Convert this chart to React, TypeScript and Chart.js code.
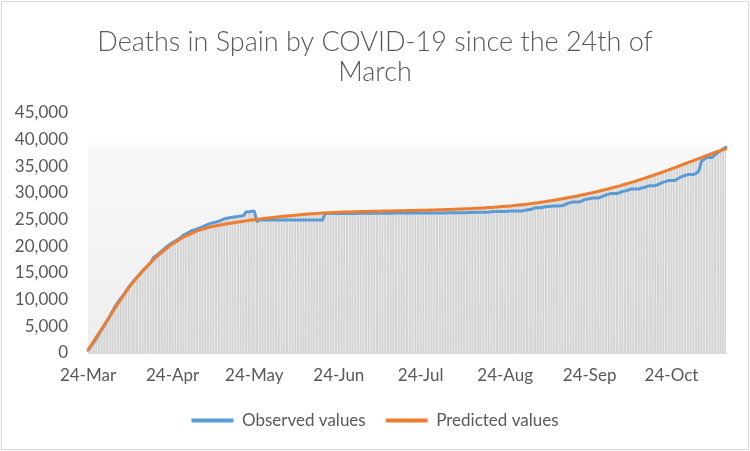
import React, { useEffect, useRef } from "react";
import { Chart, registerables } from "chart.js";

Chart.register(...registerables);

const START_YEAR = 2020;
const START_MONTH = 2; // March
const START_DAY = 24;
const MONTH_NAMES = ["Jan", "Feb", "Mar", "Apr", "May", "Jun", "Jul", "Aug", "Sep", "Oct", "Nov", "Dec"];
const TICK_LABELS = ["24-Mar", "24-Apr", "24-May", "24-Jun", "24-Jul", "24-Aug", "24-Sep", "24-Oct"];
const TITLE_LINES = ["Deaths in Spain by COVID-19 since the 24th of", "March"];
const SERIES_NAMES = ["Observed values", "Predicted values"];

// Daily values, 24-Mar .. 13-Nov
const OBSERVED = [
  514, 1252, 1907, 2676, 3508, 4346, 5158, 6007,
  6871, 7821, 8753, 9562, 10236, 10873, 11616, 12373, 13056, 13661, 14171, 14790, 15307, 15874, 16397,
  16948, 17861, 18271, 18670, 19100, 19535, 19975, 20342, 20720, 21008, 21339, 21640, 22093, 22361, 22642,
  22918, 23082, 23246, 23431, 23675, 23888, 24117, 24296, 24439, 24562, 24738, 24922, 25139, 25277, 25381,
  25468, 25527, 25596, 25706, 25758, 26446, 26496, 26570, 26570, 24652, 24935, 24936, 24937, 24939, 24943, 24945,
  24945, 24945, 24946, 24951, 24952, 24954, 24954, 24954, 24954, 24954, 24954, 24954, 24954, 24954, 24954,
  24954, 24954, 24954, 26133, 26140, 26141, 26142, 26143, 26145, 26148, 26159, 26161, 26161, 26164, 26173,
  26181, 26186, 26203, 26203, 26203, 26206, 26210, 26214, 26219, 26221, 26221, 26221, 26221, 26224, 26227,
  26231, 26234, 26234, 26234, 26238, 26240, 26242, 26244, 26250, 26250, 26250, 26254, 26254, 26259, 26261, 26263,
  26263, 26263, 26280, 26296, 26297, 26298, 26300, 26300, 26300, 26350, 26352, 26354, 26370, 26378, 26378,
  26378, 26397, 26413, 26497, 26508, 26525, 26525, 26525, 26548, 26583, 26614, 26631, 26641, 26641, 26641, 26700,
  26800, 26900, 27000, 27236, 27236, 27236, 27334, 27412, 27446, 27517, 27565, 27565, 27565, 27666, 27822,
  28061, 28223, 28313, 28313, 28313, 28481, 28722, 28852, 28936, 29050, 29050, 29050, 29229, 29432, 29609,
  29791, 29904, 29904, 29904, 30043, 30304, 30380, 30506, 30747, 30747, 30747, 30747, 30942, 31022, 31231,
  31371, 31371, 31371, 31593, 31810, 32028, 32184, 32339, 32339, 32339, 32570, 32849, 33116, 33284, 33457, 33457,
  33457, 33696, 34075, 35936, 36304, 36651, 36651, 36651, 37163, 37574, 37923, 38279, 38587,
];

const PREDICTED = [
  560, 1350, 2140, 2930, 3720, 4500,
  5300, 6100, 6900, 7700, 8500,
  9260, 10020, 10780, 11540, 12300,
  12920, 13540, 14160, 14780, 15400,
  15920, 16440, 16960, 17480, 18000,
  18420, 18840, 19260, 19680, 20100,
  20430, 20760, 21090, 21420, 21750,
  21980, 22210, 22440, 22670, 22900,
  23050, 23200, 23350, 23500, 23650,
  23750, 23850, 23950, 24050, 24150,
  24230, 24310, 24390, 24470, 24550,
  24624, 24698, 24772, 24846, 24920,
  24986, 25052, 25118, 25184, 25250,
  25308, 25366, 25424, 25482, 25540,
  25592, 25644, 25696, 25748, 25800,
  25844, 25888, 25932, 25976, 26020,
  26056, 26092, 26128, 26164, 26200,
  26228, 26256, 26284, 26312, 26340,
  26360, 26380, 26400, 26420, 26440,
  26455, 26470, 26485, 26500, 26515,
  26527, 26539, 26551, 26563, 26575,
  26585, 26595, 26605, 26615, 26625,
  26635, 26645, 26655, 26665, 26675,
  26686, 26697, 26708, 26719, 26730,
  26743, 26756, 26769, 26782, 26795,
  26810, 26825, 26840, 26855, 26870,
  26888, 26906, 26924, 26942, 26960,
  26982, 27004, 27026, 27048, 27070,
  27097, 27124, 27151, 27178, 27205,
  27238, 27271, 27304, 27337, 27370,
  27412, 27454, 27496, 27538, 27580,
  27634, 27688, 27742, 27796, 27850,
  27916, 27982, 28048, 28114, 28180,
  28258, 28336, 28414, 28492, 28570,
  28658, 28746, 28834, 28922, 29010,
  29108, 29206, 29304, 29402, 29500,
  29610, 29720, 29830, 29940, 30050,
  30172, 30294, 30416, 30538, 30660,
  30796, 30932, 31068, 31204, 31340,
  31490, 31640, 31790, 31940, 32090,
  32254, 32418, 32582, 32746, 32910,
  33086, 33262, 33438, 33614, 33790,
  33976, 34162, 34348, 34534, 34720,
  34912, 35104, 35296, 35488, 35680,
  35874, 36068, 36262, 36456, 36650,
  36840, 37030, 37220, 37410, 37600,
  37780, 37960, 38140, 38320,
];

const Y_MAX = 45000;
const Y_STEP = 5000;

const TEXT_COLOR = "#595959";
const BLUE = "#5b9bd5";
const ORANGE = "#ed7d31";
const DROP_COLOR = "#d4d4d4";

function buildLabels(n: number): string[] {
  const out: string[] = [];
  for (let i = 0; i < n; i++) {
    const d = new Date(START_YEAR, START_MONTH, START_DAY + i);
    out.push(`${d.getDate()}-${MONTH_NAMES[d.getMonth()]}`);
  }
  return out;
}

const backgroundPlugin = {
  id: "excelBackground",
  beforeDraw(chart: any) {
    const { ctx, chartArea } = chart;
    const { left, top, right, bottom } = chartArea;
    ctx.save();
    ctx.fillStyle = "#ffffff";
    ctx.fillRect(0, 0, chart.width, chart.height);
    const g = ctx.createLinearGradient(0, top, 0, bottom);
    g.addColorStop(0, "#ffffff");
    g.addColorStop(0.12, "#ffffff");
    g.addColorStop(0.15, "#f8f8f8");
    g.addColorStop(1, "#eeeeee");
    ctx.fillStyle = g;
    ctx.fillRect(left, top, right - left, bottom - top);
    ctx.strokeStyle = "#d9d9d9";
    ctx.lineWidth = 1;
    ctx.strokeRect(1.5, 1.5, chart.width - 3, chart.height - 3);
    ctx.restore();
  },
};

export default function App() {
  const canvasRef = useRef<HTMLCanvasElement | null>(null);

  useEffect(() => {
    if (!canvasRef.current) return;
    const labels = buildLabels(OBSERVED.length);
    const dropValues = OBSERVED.map((v, i) => Math.max(v, PREDICTED[i]));

    const chart = new Chart(canvasRef.current, {
      type: "line",
      data: {
        labels,
        datasets: [
          {
            type: "line",
            label: SERIES_NAMES[0],
            data: OBSERVED,
            yAxisID: "y",
            borderColor: BLUE,
            backgroundColor: BLUE,
            borderWidth: 3,
            pointRadius: 0,
            tension: 0,
            borderJoinStyle: "round",
            borderCapStyle: "round",
            order: 1,
          },
          {
            type: "line",
            label: SERIES_NAMES[1],
            data: PREDICTED,
            yAxisID: "y",
            borderColor: ORANGE,
            backgroundColor: ORANGE,
            borderWidth: 3,
            pointRadius: 0,
            tension: 0,
            borderJoinStyle: "round",
            borderCapStyle: "round",
            order: 0,
          },
          {
            type: "bar",
            label: "drop lines",
            data: dropValues,
            yAxisID: "y",
            backgroundColor: DROP_COLOR,
            borderWidth: 0,
            barThickness: 1.4,
            order: 2,
          } as any,
        ],
      },
      options: {
        responsive: false,
        animation: false,
        devicePixelRatio: 1,
        layout: { padding: { top: 0, left: 0, right: 0, bottom: 12 } },
        font: { family: "Lato" },
        plugins: {
          title: {
            display: true,
            text: TITLE_LINES,
            color: TEXT_COLOR,
            font: { family: "Lato", size: 27, weight: 300 as any, lineHeight: "30px" },
            padding: { top: 27, bottom: 26 },
          },
          legend: {
            display: true,
            position: "bottom",
            labels: {
              color: TEXT_COLOR,
              font: { family: "Lato", size: 17 },
              boxWidth: 42,
              boxHeight: 4,
              padding: 20,
              filter: (item: any) => item.datasetIndex !== 2,
              sort: (a: any, b: any) => a.datasetIndex - b.datasetIndex,
              generateLabels: (c: any) =>
                Chart.defaults.plugins.legend.labels.generateLabels(c).map((it: any) => ({ ...it, lineWidth: 0 })),
            },
          },
          tooltip: { enabled: false },
        },
        scales: {
          x: {
            type: "category",
            offset: false,
            grid: { display: false, drawTicks: false },
            border: { display: true, color: "#d9d9d9" },
            ticks: {
              autoSkip: false,
              maxRotation: 0,
              minRotation: 0,
              padding: 12,
              color: TEXT_COLOR,
              font: { family: "Lato", size: 17 },
              callback: function (this: any, _v: any, index: number) {
                const lab = labels[index];
                return TICK_LABELS.includes(lab) ? lab : null;
              },
            },
            afterFit: (s: any) => {
              s.height = 39;
            },
          },
          y: {
            position: "left",
            min: 0,
            max: Y_MAX,
            grid: { display: false, drawTicks: false },
            border: { display: false },
            ticks: {
              stepSize: Y_STEP,
              padding: 20,
              color: TEXT_COLOR,
              font: { family: "Lato", size: 17 },
              callback: (v: any) => Number(v).toLocaleString("en-US"),
            },
            afterFit: (s: any) => {
              s.width = 88;
            },
          },
          yRightSpace: {
            type: "linear",
            position: "right",
            min: 0,
            max: Y_MAX,
            grid: { display: false, drawTicks: false },
            border: { display: false },
            ticks: { display: false },
            afterFit: (s: any) => {
              s.width = 24;
            },
          },
        },
      },
      plugins: [backgroundPlugin],
    });

    return () => chart.destroy();
  }, []);

  return (
    <div style={{ position: "absolute", left: 0, top: 0, width: 750, height: 451, background: "#fff" }}>
      <canvas ref={canvasRef} width={750} height={451} style={{ display: "block" }} />
    </div>
  );
}
